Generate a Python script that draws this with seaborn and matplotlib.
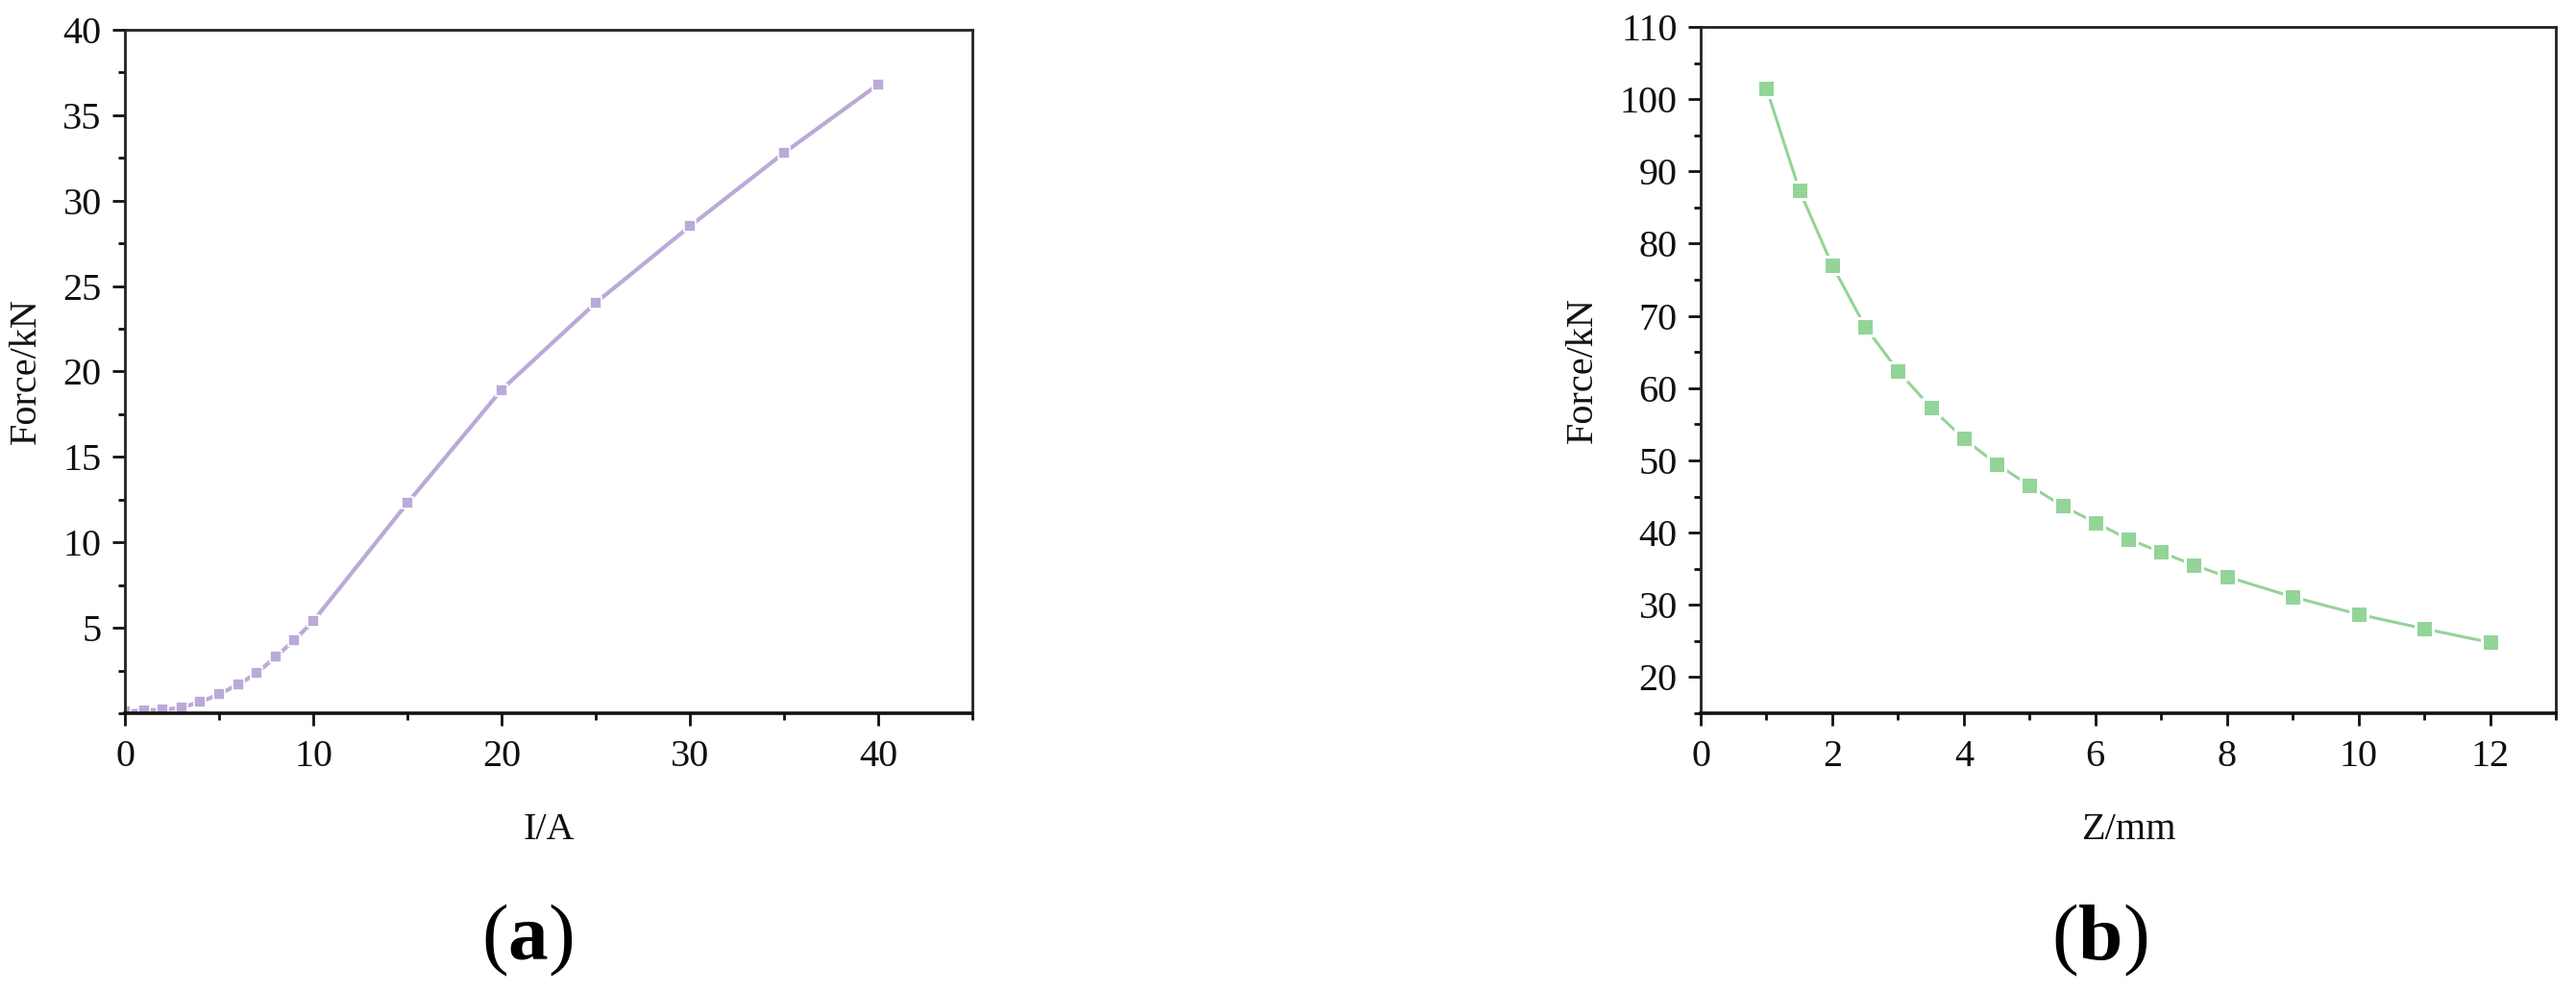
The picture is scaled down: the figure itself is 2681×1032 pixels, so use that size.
import matplotlib
matplotlib.use("Agg")
import matplotlib.pyplot as plt
import seaborn as sns
import pandas as pd
from matplotlib.ticker import MultipleLocator

# ---- data ----
current_A = [0, 1, 2, 3, 4, 5, 6, 7, 8, 9, 10, 15, 20, 25, 30, 35, 40]
force_a_kN = [0.1, 0.17, 0.2, 0.33, 0.66, 1.1, 1.68, 2.34, 3.3, 4.28, 5.39,
              12.3, 18.93, 24.02, 28.5, 32.8, 36.8]

gap_mm = [1, 1.5, 2, 2.5, 3, 3.5, 4, 4.5, 5, 5.5, 6, 6.5, 7, 7.5, 8, 9, 10, 11, 12]
force_b_kN = [101.5, 87.4, 77.0, 68.5, 62.4, 57.3, 53.0, 49.5, 46.5, 43.7, 41.4,
              39.1, 37.3, 35.5, 33.9, 31.1, 28.7, 26.7, 24.8]

x_ticks_a = [0, 10, 20, 30, 40]
y_ticks_a = [5, 10, 15, 20, 25, 30, 35, 40]
x_ticks_b = [0, 2, 4, 6, 8, 10, 12]
y_ticks_b = [20, 30, 40, 50, 60, 70, 80, 90, 100, 110]

purple = "#bba9d8"
green = "#93d498"

sns.set_theme(style="ticks")
plt.rcParams["font.family"] = ["Liberation Serif", "DejaVu Serif"]
plt.rcParams["mathtext.fontset"] = "custom"
plt.rcParams["mathtext.rm"] = "Liberation Serif"
plt.rcParams["mathtext.bf"] = "Liberation Serif:bold"

fig = plt.figure(figsize=(26.81, 10.32), dpi=100)
ax1 = fig.add_axes([130 / 2681, 1 - 742 / 1032, (1012 - 130) / 2681, (742 - 31) / 1032])
ax2 = fig.add_axes([1770 / 2681, 1 - 742 / 1032, (2660 - 1770) / 2681, (742 - 28) / 1032])

df_a = pd.DataFrame({"I": current_A, "F": force_a_kN})
df_b = pd.DataFrame({"Z": gap_mm, "F": force_b_kN})

sns.lineplot(data=df_a, x="I", y="F", ax=ax1, color=purple, linewidth=3.0,
             marker="s", markersize=9, markeredgecolor="white", markeredgewidth=1.2,
             markerfacecolor=purple)
sns.lineplot(data=df_b, x="Z", y="F", ax=ax2, color=green, linewidth=2.2,
             marker="s", markersize=13, markeredgecolor="white", markeredgewidth=2.2,
             markerfacecolor=green)

def style(ax, xlim, ylim, xt, yt, xminor, yminor, xlabel):
    ax.set_xlim(*xlim)
    ax.set_ylim(*ylim)
    ax.set_xticks(xt)
    ax.set_yticks(yt)
    ax.xaxis.set_minor_locator(MultipleLocator(xminor))
    ax.yaxis.set_minor_locator(MultipleLocator(yminor))
    for s in ["left", "right", "top"]:
        ax.spines[s].set_visible(True)
        ax.spines[s].set_linewidth(2.0)
        ax.spines[s].set_color("#222222")
    ax.spines["bottom"].set_linewidth(2.6)
    ax.spines["bottom"].set_color("#111111")
    ax.tick_params(which="major", direction="out", length=9.5, width=2.0,
                   labelsize=29, pad=8, colors="#111111", top=False, right=False)
    ax.tick_params(which="minor", direction="out", length=5, width=2.0,
                   colors="#111111", top=False, right=False)
    ax.tick_params(axis="x", which="major", pad=10)
    ax.set_xlabel(xlabel, fontsize=29, labelpad=28, color="#111111")
    ax.set_ylabel("Force/kN", fontsize=29, labelpad=14, color="#111111")

style(ax1, (0, 45), (0, 40), x_ticks_a, y_ticks_a, 5, 2.5, "I/A")
style(ax2, (0, 13), (15, 110), x_ticks_b, y_ticks_b, 1, 5, "Z/mm")

fig.text(549 / 2681, 1 - 978 / 1032, r"($\mathbf{a}$)", fontsize=60,
         ha="center", va="center", color="black")
fig.text(2185 / 2681, 1 - 978 / 1032, r"($\mathbf{b}$)", fontsize=60,
         ha="center", va="center", color="black")

fig.savefig("out.png", dpi=100, facecolor="white")
